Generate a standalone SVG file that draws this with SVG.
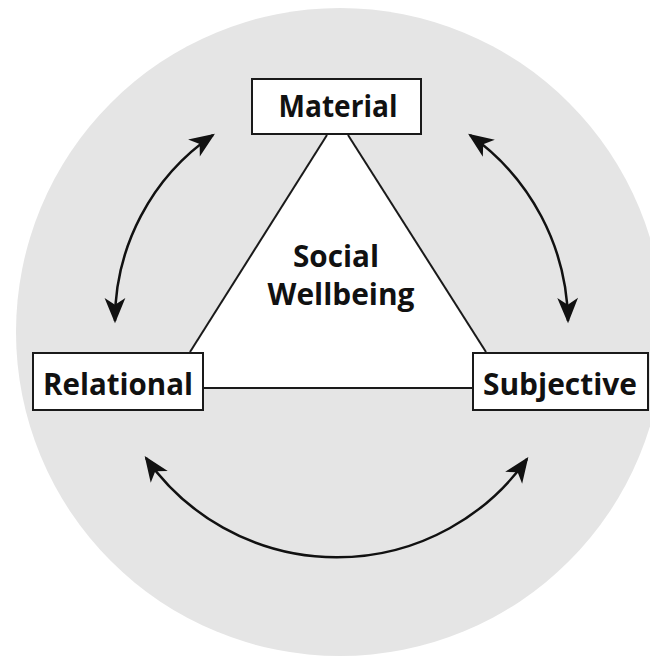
<svg xmlns="http://www.w3.org/2000/svg" width="650" height="656" viewBox="0 0 650 656">
<style>
.lbl{font-family:"Open Sans","Liberation Sans",sans-serif;font-weight:700;font-size:31px;fill:#111;text-anchor:middle}
.box{fill:#fff;stroke:#1a1a1a;stroke-width:2}
.ln{stroke:#1a1a1a;stroke-width:2;fill:none}
.arc{stroke:#111;stroke-width:2.5;fill:none;marker-start:url(#ah);marker-end:url(#ah)}
</style>
<defs>
<marker id="ah" markerUnits="userSpaceOnUse" markerWidth="30" markerHeight="30" viewBox="-22 -11 26 22" refX="0" refY="0" orient="auto-start-reverse" overflow="visible">
<path d="M2,0 L-20,-9 L-14,0 L-20,9 Z" fill="#111"/>
</marker>
</defs>
<rect width="650" height="656" fill="#fff"/>
<circle cx="340" cy="332" r="324" fill="#e5e5e5"/>
<polygon points="327,135 348,135 509,388 167,388" fill="#fff"/>
<g id="connectors">
<line class="ln" x1="327" y1="135" x2="190" y2="352"/>
<line class="ln" x1="348" y1="135" x2="486" y2="352"/>
<line class="ln" x1="204" y1="388" x2="472" y2="388"/>
<path class="arc" d="M115,321 A225,225 0 0 1 213,135"/>
<path class="arc" d="M470,135 A232,232 0 0 1 568,321"/>
<path class="arc" d="M527,459 A233,233 0 0 1 146,458"/>
</g>
<g id="center">
<text class="lbl" x="336" y="267" textLength="86" lengthAdjust="spacingAndGlyphs">Social</text>
<text class="lbl" x="341" y="305" textLength="147" lengthAdjust="spacingAndGlyphs">Wellbeing</text>
</g>
<g id="material">
<rect class="box" x="252" y="79" width="169" height="55"/>
<text class="lbl" x="338" y="117" textLength="119" lengthAdjust="spacingAndGlyphs">Material</text>
</g>
<g id="relational">
<rect class="box" x="33" y="353" width="170" height="57"/>
<text class="lbl" x="118" y="395" textLength="150" lengthAdjust="spacingAndGlyphs">Relational</text>
</g>
<g id="subjective">
<rect class="box" x="473" y="353" width="175" height="57"/>
<text class="lbl" x="560" y="395" textLength="154" lengthAdjust="spacingAndGlyphs">Subjective</text>
</g>
</svg>
